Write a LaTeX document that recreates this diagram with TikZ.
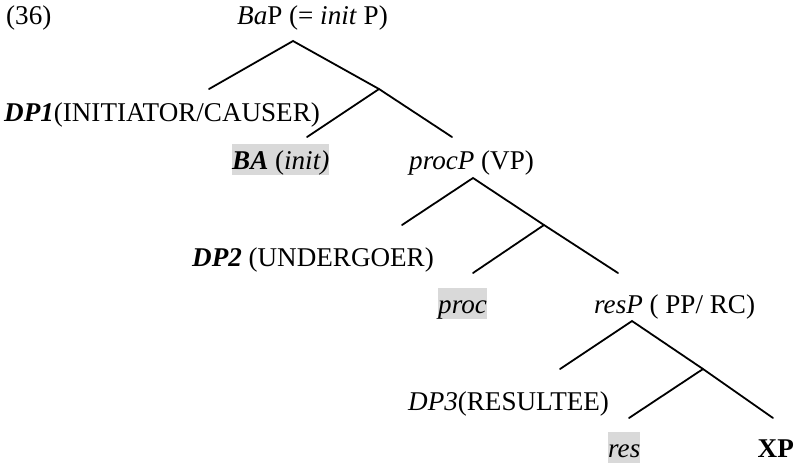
\documentclass[tikz,border=0pt]{standalone}
\usepackage{fontspec}
\setmainfont{Liberation Serif}
\begin{document}
\begin{tikzpicture}[x=1pt,y=-1pt,
  lbl/.style={anchor=base west,inner sep=0pt,font=\fontsize{27.1}{33}\selectfont},
  hl/.style={lbl,fill=black!15,text height=25pt,text depth=6pt},
  branch/.style={line width=1.8pt,line cap=round}]
  \useasboundingbox (0,0) rectangle (797,464);

  % labels
  \node[lbl] (ex)   at (6,24)   {(36)};
  \node[lbl] (bap)  at (237,24) {\textit{Ba}P (= \textit{init} P)};
  \node[lbl] (dp1)  at (4,121)  {\textbf{\textit{DP1}}(INITIATOR/CAUSER)};
  \node[hl]  (ba)   at (232,169) {\textbf{\textit{BA}} (\textit{init)}};
  \node[lbl] (procp) at (409,169) {\textit{procP} (VP)};
  \node[lbl] (dp2)  at (192,266) {\textbf{\textit{DP2}} (UNDERGOER)};
  \node[hl]  (proc) at (438,313) {\textit{proc}};
  \node[lbl] (resp) at (594,313) {\textit{resP} ( PP/ RC)};
  \node[lbl] (dp3)  at (408,410) {\textit{DP3}(RESULTEE)};
  \node[hl]  (res)  at (608,457) {\textit{res}};
  \node[lbl,anchor=base east] (xp) at (794,457) {\textbf{XP}};

  % branching points
  \coordinate (a0) at (293,41);
  \coordinate (a1) at (209,89);
  \coordinate (a2) at (379,89);
  \coordinate (a3) at (307,137);
  \coordinate (a4) at (452,137);

  \coordinate (b0) at (473,178);
  \coordinate (b1) at (402,225);
  \coordinate (b2) at (544,225);
  \coordinate (b3) at (473,273);
  \coordinate (b4) at (618,273);

  \coordinate (c0) at (632,321);
  \coordinate (c1) at (560,369);
  \coordinate (c2) at (703,369);
  \coordinate (c3) at (629,418);
  \coordinate (c4) at (773,418);

  % tree branches
  \draw[branch] (a1) -- (a0) -- (a2) -- (a4);
  \draw[branch] (a3) -- (a2);
  \draw[branch] (b1) -- (b0) -- (b2) -- (b4);
  \draw[branch] (b3) -- (b2);
  \draw[branch] (c1) -- (c0) -- (c2) -- (c4);
  \draw[branch] (c3) -- (c2);
\end{tikzpicture}
\end{document}
